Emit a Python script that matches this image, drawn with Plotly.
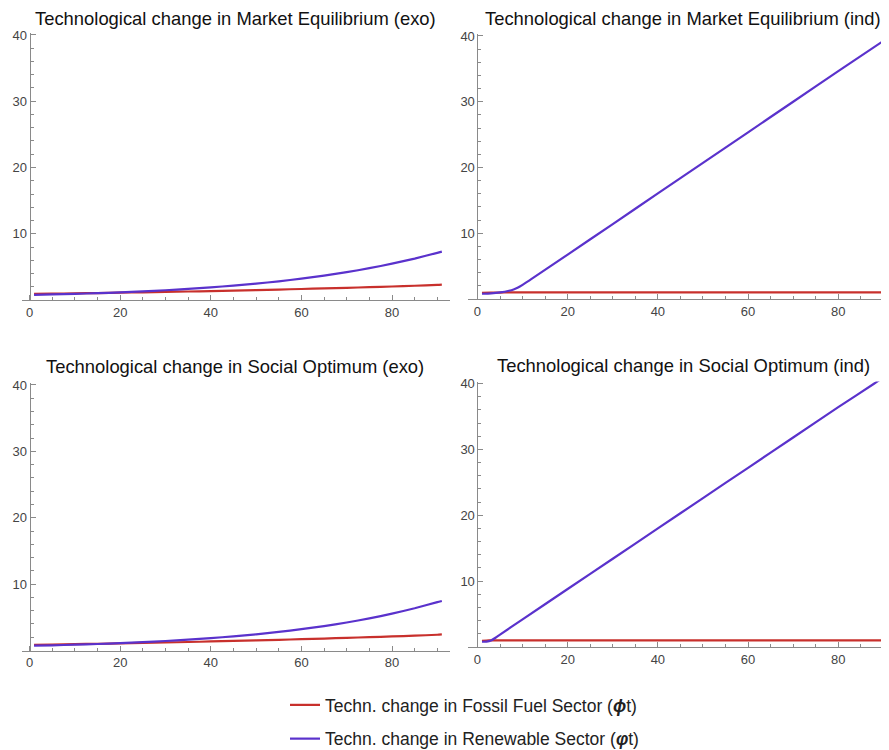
import plotly.graph_objects as go

# ---------------- data ----------------
t_exo = [1, 5, 10, 15, 20, 25, 30, 35, 40, 45, 50, 55, 60, 65, 70, 75, 80, 85, 90, 91]

me_exo_fossil = [0.92, 0.95, 1.00, 1.05, 1.10, 1.16, 1.22, 1.28, 1.35, 1.42, 1.50,
                 1.58, 1.66, 1.75, 1.84, 1.94, 2.04, 2.15, 2.27, 2.32]
me_exo_renew = [0.78, 0.84, 0.93, 1.03, 1.15, 1.30, 1.47, 1.67, 1.90, 2.17, 2.47,
                2.82, 3.22, 3.68, 4.20, 4.80, 5.48, 6.25, 7.12, 7.30]

so_exo_fossil = [0.86, 0.90, 0.96, 1.02, 1.08, 1.14, 1.21, 1.28, 1.36, 1.44, 1.52,
                 1.61, 1.70, 1.80, 1.90, 2.01, 2.12, 2.24, 2.37, 2.42]
so_exo_renew = [0.72, 0.78, 0.88, 0.98, 1.11, 1.26, 1.43, 1.63, 1.86, 2.13, 2.44,
                2.80, 3.21, 3.68, 4.22, 4.84, 5.55, 6.36, 7.28, 7.45]

t_me_ind = [1, 3, 5, 7, 8, 9, 10, 11, 12, 20, 30, 40, 50, 60, 70, 80, 91]
me_ind_fossil = [0.95, 0.97, 0.98, 1.0, 1.0, 1.0, 1.0, 1.0, 1.0, 1.0, 1.0, 1.0,
                 1.0, 1.0, 1.0, 1.0, 1.0]
me_ind_renew = [0.80, 0.86, 1.00, 1.25, 1.45, 1.75, 2.15, 2.60, 3.05, 6.75,
                11.40, 16.05, 20.70, 25.35, 30.00, 34.65, 39.70]

t_so_ind = [1, 2, 3, 4, 5, 10, 20, 30, 40, 50, 60, 70, 80, 88, 91]
so_ind_fossil = [0.95, 0.98, 1.0, 1.0, 1.0, 1.0, 1.0, 1.0, 1.0, 1.0, 1.0, 1.0,
                 1.0, 1.0, 1.0]
so_ind_renew = [0.80, 0.82, 0.98, 1.40, 1.88, 4.20, 8.80, 13.40, 18.00, 22.60,
                27.20, 31.80, 36.40, 40.00, 41.40]

titles = ["Technological change in Market Equilibrium (exo)",
          "Technological change in Market Equilibrium (ind)",
          "Technological change in Social Optimum (exo)",
          "Technological change in Social Optimum (ind)"]

legend_names = ["Techn. change in Fossil Fuel Sector (<b><i>\u03d5</i></b>t)",
                "Techn. change in Renewable Sector (<b><i>\u03c6</i></b>t)"]

x_ticks = [0, 20, 40, 60, 80]
y_ticks = [10, 20, 30, 40]

# ---------------- styling / layout ----------------
# the page body has an 8px margin, so the figure is drawn 8px in from the window edge
OFF = 8
W, H = 889 - OFF, 750 - OFF
RED = "#c8302c"
BLUE = "#5a32cc"
AXIS = "#8a8a8a"
FONT = "Liberation Sans, Arial, Helvetica, sans-serif"

# panel geometry in window pixels: (left, right), (top, bottom), x range
panels = [
    dict(px=(22, 450), py=(33, 300), xr=(-1.66, 92.8)),
    dict(px=(468, 889), py=(34, 299), xr=(-2.1, 91.25)),
    dict(px=(22, 450), py=(383, 650.5), xr=(-1.66, 92.8)),
    dict(px=(468, 889), py=(381.5, 647), xr=(-2.1, 91.25)),
]
title_pos = [(235, 18), (683, 18), (235, 366), (683, 365)]
y_range = (0, 40.3)


def fx(px):
    return (px - OFF) / W


def fy(py):
    return 1 - (py - OFF) / H


series = [
    (t_exo, me_exo_fossil, me_exo_renew),
    (t_me_ind, me_ind_fossil, me_ind_renew),
    (t_exo, so_exo_fossil, so_exo_renew),
    (t_so_ind, so_ind_fossil, so_ind_renew),
]

fig = go.Figure()
layout = dict(width=W, height=H,
              margin=dict(l=0, r=0, t=0, b=0, pad=0, autoexpand=False),
              paper_bgcolor="white", plot_bgcolor="white",
              font=dict(family=FONT, size=13, color="#444"),
              showlegend=True, annotations=[])

for i, (p, (tx, fos, ren), title) in enumerate(zip(panels, series, titles)):
    n = i + 1
    xa = "xaxis" if n == 1 else f"xaxis{n}"
    ya = "yaxis" if n == 1 else f"yaxis{n}"
    xref = "x" if n == 1 else f"x{n}"
    yref = "y" if n == 1 else f"y{n}"
    xd = (fx(p["px"][0]), min(1.0, fx(p["px"][1])))
    yd = (fy(p["py"][1]), fy(p["py"][0]))
    x0, x1 = p["xr"]
    ypos = xd[0] + (0 - x0) / (x1 - x0) * (xd[1] - xd[0])

    fig.add_trace(go.Scatter(x=tx, y=fos, mode="lines", name=legend_names[0],
                             line=dict(color=RED, width=2.2, shape="spline", smoothing=0.5),
                             xaxis=xref, yaxis=yref, legendgroup="fos",
                             showlegend=(n == 1)))
    fig.add_trace(go.Scatter(x=tx, y=ren, mode="lines", name=legend_names[1],
                             line=dict(color=BLUE, width=2.2, shape="spline", smoothing=0.5),
                             xaxis=xref, yaxis=yref, legendgroup="ren",
                             showlegend=(n == 1)))

    layout[xa] = dict(domain=list(xd), range=[x0, x1], anchor=yref,
                      showline=True, linecolor=AXIS, linewidth=1,
                      showgrid=False, zeroline=False, automargin=False,
                      tickmode="array", tickvals=x_ticks,
                      ticks="inside", ticklen=5, tickcolor=AXIS, tickwidth=1,
                      minor=dict(ticks="inside", ticklen=3, tickcolor=AXIS,
                                 tickmode="linear", tick0=0, dtick=5),
                      tickfont=dict(size=13, color="#444"), fixedrange=True)
    layout[ya] = dict(domain=list(yd), range=list(y_range), anchor="free",
                      position=ypos,
                      showline=True, linecolor=AXIS, linewidth=1,
                      showgrid=False, zeroline=False, automargin=False,
                      tickmode="array", tickvals=y_ticks,
                      ticks="inside", ticklen=5, tickcolor=AXIS, tickwidth=1,
                      minor=dict(ticks="inside", ticklen=3, tickcolor=AXIS,
                                 tickmode="linear", tick0=0, dtick=2),
                      tickfont=dict(size=13, color="#444"), fixedrange=True)

    tx_px, ty_px = title_pos[i]
    layout["annotations"].append(dict(
        text=title, xref="paper", yref="paper",
        x=fx(tx_px), y=fy(ty_px),
        xanchor="center", yanchor="middle", showarrow=False,
        font=dict(family=FONT, size=18.4, color="#111")))

layout["legend"] = dict(x=fx(285), y=fy(687), xanchor="left", yanchor="top",
                        orientation="v", tracegroupgap=8,
                        font=dict(family=FONT, size=17.5, color="#222"),
                        bgcolor="rgba(0,0,0,0)")

fig.update_layout(**layout)
fig.write_html("out.html")
